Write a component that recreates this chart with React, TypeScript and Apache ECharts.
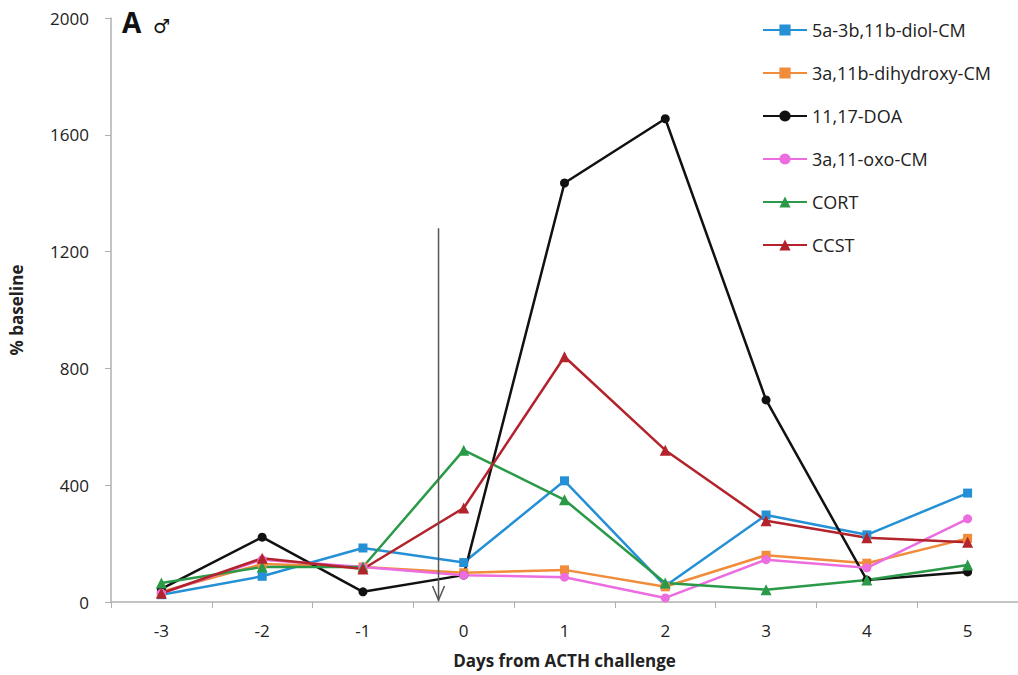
import React, { useEffect, useRef } from "react";
import * as echarts from "echarts";

const days = ["-3", "-2", "-1", "0", "1", "2", "3", "4", "5"];
const yTicks = [0, 400, 800, 1200, 1600, 2000];

const diolCM = [25, 88, 185, 135, 415, 55, 298, 230, 373];
const dihydroxyCM = [35, 130, 120, 100, 110, 52, 160, 133, 218];
const doa = [45, 222, 35, 92, 1435, 1655, 692, 75, 103];
const oxoCM = [30, 145, 120, 92, 85, 14, 145, 117, 285];
const cort = [65, 120, 120, 520, 350, 65, 42, 75, 127];
const ccst = [30, 150, 113, 322, 840, 520, 278, 220, 205];

const arrowX = -0.25; // position relative to day "0" (index offset)
const arrowTop = 1280;

const seriesDefs = [
  { name: "5a-3b,11b-diol-CM", data: diolCM, color: "#2590d6", symbol: "rect" },
  { name: "3a,11b-dihydroxy-CM", data: dihydroxyCM, color: "#f08c3a", symbol: "rect" },
  { name: "11,17-DOA", data: doa, color: "#111111", symbol: "circle" },
  { name: "3a,11-oxo-CM", data: oxoCM, color: "#ec6ddf", symbol: "circle" },
  { name: "CORT", data: cort, color: "#2a9a48", symbol: "triangle" },
  { name: "CCST", data: ccst, color: "#b3232c", symbol: "triangle" },
];

export default function App() {
  const ref = useRef<HTMLDivElement>(null);
  useEffect(() => {
    if (!ref.current) return;
    const chart = echarts.init(ref.current, null, { renderer: "svg" });
    const font = "'Open Sans', 'Noto Sans', sans-serif";
    const titleGraphic = {
      type: "group",
      left: 122,
      top: 8,
      children: [
        {
          type: "text",
          style: { text: "A", font: "bold 28px " + font, fill: "#111" },
        },
        {
          type: "text",
          x: 31,
          y: 8,
          style: { text: "♂", font: "19px 'DejaVu Sans', sans-serif", fill: "#111" },
        },
      ],
    };
    chart.setOption({
      animation: false,
      textStyle: { fontFamily: font },
      grid: { left: 106, right: 0, top: 18, bottom: 73 },
      legend: {
        orient: "vertical",
        left: 757,
        top: 16,
        itemWidth: 44,
        itemHeight: 14,
        itemGap: 25,
        textStyle: { fontSize: 18, lineHeight: 18, color: "#222", fontFamily: font },
        data: seriesDefs.map((s) => s.name),
      },
      xAxis: {
        type: "category",
        data: days,
        boundaryGap: true,
        name: "Days from ACTH challenge",
        nameLocation: "middle",
        nameGap: 50,
        nameTextStyle: { fontSize: 17, fontWeight: "bold", color: "#222" },
        axisLine: { lineStyle: { color: "#b0b0b0", width: 1.5 } },
        axisTick: { show: true, length: 6, lineStyle: { color: "#b0b0b0" } },
        axisLabel: { fontSize: 17, color: "#222", margin: 20 },
      },
      yAxis: {
        type: "value",
        min: 0,
        max: 2000,
        interval: 400,
        name: "% baseline",
        nameLocation: "middle",
        nameGap: 86,
        nameTextStyle: { fontSize: 17, fontWeight: "bold", color: "#222" },
        axisLine: { show: true, lineStyle: { color: "#b0b0b0", width: 1.5 } },
        axisTick: { show: true, length: 6, lineStyle: { color: "#b0b0b0" } },
        axisLabel: {
          fontSize: 17,
          color: "#222",
          margin: 22,
          formatter: (v: number) => (yTicks.includes(v) ? String(v) : ""),
        },
        splitLine: { show: false },
      },
      series: seriesDefs.map((s) => ({
        name: s.name,
        type: "line",
        data: s.data,
        symbol: s.symbol,
        symbolSize: s.symbol === "triangle" ? 11 : 9,
        showAllSymbol: true,
        color: s.color,
        lineStyle: { width: 2.5, color: s.color },
        itemStyle: { color: s.color },
      })),
      graphic: [titleGraphic],
    });
    const p0 = chart.convertToPixel({ xAxisIndex: 0 }, 3) as number;
    const p1 = chart.convertToPixel({ xAxisIndex: 0 }, 4) as number;
    const ax = p0 + (p1 - p0) * arrowX;
    const yTop = chart.convertToPixel({ yAxisIndex: 0 }, arrowTop) as number;
    const yBot = chart.convertToPixel({ yAxisIndex: 0 }, 0) as number;
    chart.setOption({
      graphic: [
        titleGraphic,
        {
          type: "line",
          shape: { x1: ax, y1: yTop, x2: ax, y2: yBot - 1 },
          style: { stroke: "#555", lineWidth: 1.5 },
          z: 10,
        },
        {
          type: "polyline",
          shape: { points: [[ax - 6, yBot - 16], [ax, yBot - 2], [ax + 6, yBot - 16]] },
          style: { stroke: "#555", lineWidth: 1.5, fill: "none" },
          z: 10,
        },
      ],
    });
    return () => chart.dispose();
  }, []);
  return (
    <div
      ref={ref}
      style={{ position: "fixed", left: 0, top: 0, width: 1018, height: 675, background: "#fff" }}
    />
  );
}
